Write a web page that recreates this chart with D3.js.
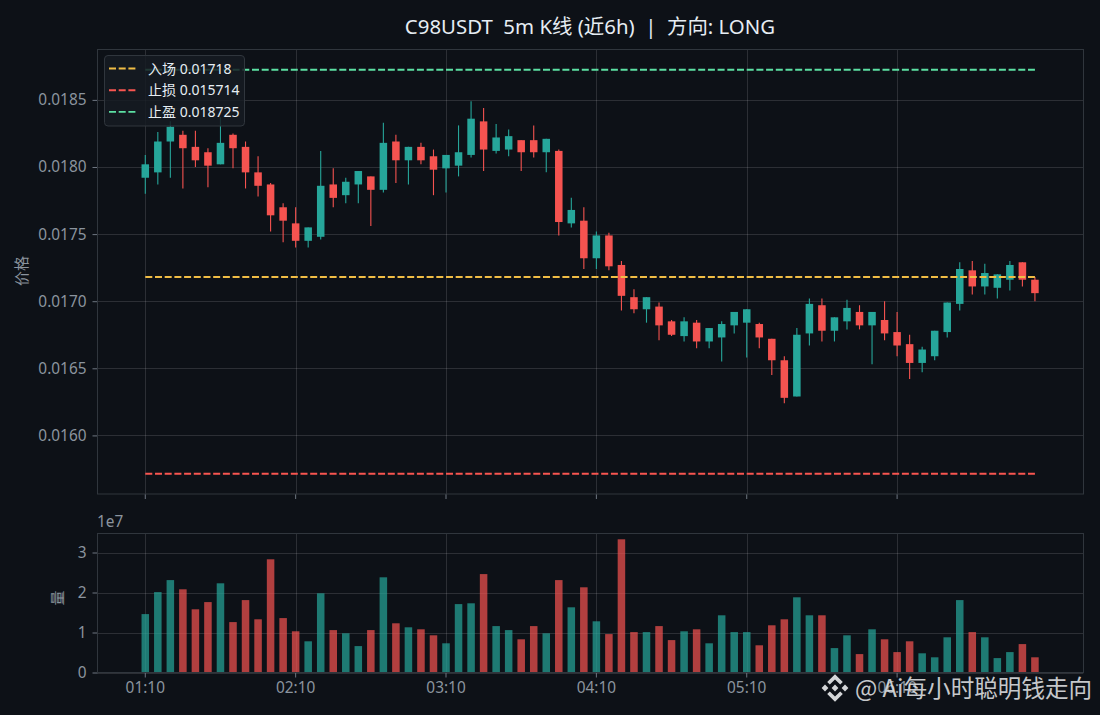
<!DOCTYPE html>
<html>
<head>
<meta charset="utf-8">
<script src="https://cdn.jsdelivr.net/npm/d3@7"></script>
<style>
  html, body { margin: 0; padding: 0; background: #0d1117; }
  svg { display: block; font-family: "Noto Sans", "Noto Sans CJK SC", sans-serif; }
</style>
</head>
<body>
<div id="chart"></div>
<script>
const opens = [0.01792,0.01796,0.01819,0.01824,0.01815,0.01811,0.01802,0.01824,0.01815,0.01796,
  0.01787,0.01770,0.01758,0.01745,0.01748,0.01787,0.01779,0.01787,0.01793,0.01783,
  0.01819,0.01805,0.01815,0.01808,0.01799,0.01801,0.01809,0.01834,0.01812,0.01813,
  0.01820,0.01820,0.01811,0.01812,0.01758,0.01760,0.01732,0.01749,0.01727,0.01703,
  0.01694,0.01696,0.01685,0.01674,0.01684,0.01670,0.01673,0.01682,0.01684,0.01683,
  0.01672,0.01656,0.01629,0.01676,0.01697,0.01678,0.01685,0.01692,0.01682,0.01686,
  0.01677,0.01668,0.01654,0.01659,0.01677,0.01698,0.01723,0.01711,0.01710,0.01716,
  0.01729,0.01716];
const closes = [0.01802,0.01819,0.01830,0.01814,0.01805,0.01801,0.01818,0.01814,0.01796,0.01786,
  0.01764,0.01760,0.01745,0.01755,0.01786,0.01777,0.01789,0.01797,0.01783,0.01818,
  0.01805,0.01815,0.01805,0.01798,0.01809,0.01811,0.01836,0.01813,0.01822,0.01823,
  0.01811,0.01811,0.01821,0.01759,0.01768,0.01732,0.01749,0.01726,0.01704,0.01694,
  0.01703,0.01682,0.01675,0.01685,0.01670,0.01680,0.01683,0.01692,0.01694,0.01673,
  0.01656,0.01628,0.01675,0.01698,0.01678,0.01688,0.01695,0.01682,0.01692,0.01676,
  0.01667,0.01654,0.01664,0.01678,0.01699,0.01724,0.01711,0.01721,0.01720,0.01727,
  0.01716,0.01706];
const highs = [0.01809,0.01826,0.01834,0.01827,0.01827,0.01814,0.01837,0.01825,0.01819,0.01808,
  0.01788,0.01773,0.01770,0.01755,0.01812,0.01799,0.01792,0.01797,0.01793,0.01833,
  0.01824,0.01815,0.01818,0.01813,0.01809,0.01831,0.01849,0.01844,0.01832,0.01828,
  0.01820,0.01831,0.01821,0.01813,0.01777,0.01770,0.01752,0.01751,0.01730,0.01709,
  0.01703,0.01699,0.01686,0.01688,0.01686,0.01680,0.01685,0.01692,0.01694,0.01684,
  0.01672,0.01659,0.01680,0.01702,0.01702,0.01688,0.01701,0.01697,0.01692,0.01700,
  0.01692,0.01675,0.01666,0.01678,0.01699,0.01729,0.01730,0.01728,0.01720,0.01730,
  0.01729,0.01718];
const lows = [0.01780,0.01787,0.01792,0.01784,0.01800,0.01785,0.01802,0.01799,0.01784,0.01778,
  0.01752,0.01744,0.01740,0.01740,0.01746,0.01770,0.01773,0.01773,0.01756,0.01781,
  0.01788,0.01787,0.01802,0.01779,0.01781,0.01793,0.01807,0.01797,0.01810,0.01808,
  0.01797,0.01807,0.01796,0.01749,0.01755,0.01724,0.01724,0.01723,0.01693,0.01691,
  0.01684,0.01671,0.01674,0.01670,0.01665,0.01665,0.01655,0.01676,0.01658,0.01665,
  0.01645,0.01624,0.01629,0.01667,0.01670,0.01670,0.01679,0.01679,0.01653,0.01671,
  0.01659,0.01642,0.01647,0.01656,0.01673,0.01693,0.01705,0.01705,0.01702,0.01708,
  0.01711,0.01700];
const volumes = [1.46,2.01,2.31,2.08,1.58,1.76,2.23,1.26,1.81,1.33,2.83,1.36,1.03,0.78,1.98,1.06,0.98,0.66,1.06,2.38,
  1.23,1.13,1.08,0.93,0.73,1.71,1.73,2.46,1.16,1.06,0.83,1.16,0.98,2.31,1.63,2.13,1.28,0.96,3.33,1.01,
  1.01,1.16,0.81,1.03,1.08,0.73,1.43,1.01,1.01,0.68,1.18,1.33,1.88,1.43,1.43,0.61,0.93,0.46,1.08,0.83,
  0.51,0.78,0.48,0.38,0.88,1.81,1.01,0.88,0.36,0.51,0.71,0.38];

const levels = [
  { name: "入场", value: 0.01718, color: "#f0bd45" },
  { name: "止损", value: 0.015714, color: "#f85550" },
  { name: "止盈", value: 0.018725, color: "#5ce0a3" }
];
const priceTicks = [0.016, 0.0165, 0.017, 0.0175, 0.018, 0.0185];
const volumeTicks = [0, 1, 2, 3];
const timeIndex = [0, 12, 24, 36, 48, 60];
const timeLabels = ["01:10", "02:10", "03:10", "04:10", "05:10", "06:10"];

const title = "C98USDT  5m K线 (近6h)  |  方向: LONG";
const watermark = "@ Ai每小时聪明钱走向";

const width = 1100;
const height = 715;
const left = 97.3;
const right = 1083.3;
const green = "#26a69a";
const red = "#f55350";
const gridColor = "rgba(255,255,255,0.13)";
const spineColor = "#30363d";
const textColor = "#8b949e";
const tickFont = "15.4px";

const candles = opens.map((o, i) => ({
  i, o, c: closes[i], h: highs[i], l: lows[i], v: volumes[i], up: closes[i] >= o
}));

const svg = d3.select("#chart").append("svg")
  .attr("width", width)
  .attr("height", height);

svg.append("rect").attr("width", width).attr("height", height).attr("fill", "#0d1117");

const x = d3.scaleLinear().domain([-3.83, 74.86]).range([left, right]);

// price domain with the same 5% margin on both sides
const priceMin = d3.min(lows.concat(levels.map(d => d.value)));
const priceMax = d3.max(highs.concat(levels.map(d => d.value)));
const pad = (priceMax - priceMin) * 0.05;
const y = d3.scaleLinear().domain([priceMin - pad, priceMax + pad]).range([494, 49.5]);
const yVol = d3.scaleLinear().domain([0, 3.475]).range([672.5, 533.5]);

const crisp = v => Math.round(v) + 0.5;

const drawPanel = (yScale, ticks, top, bottom) => {
  const grid = svg.append("g");
  grid.selectAll(".h").data(ticks).enter().append("line")
    .attr("x1", left).attr("x2", right)
    .attr("y1", d => crisp(yScale(d))).attr("y2", d => crisp(yScale(d)))
    .attr("stroke", gridColor);
  grid.selectAll(".v").data(timeIndex).enter().append("line")
    .attr("x1", d => crisp(x(d))).attr("x2", d => crisp(x(d)))
    .attr("y1", top).attr("y2", bottom)
    .attr("stroke", gridColor);
};

drawPanel(y, priceTicks, 49.5, 494);
drawPanel(yVol, volumeTicks, 533.5, 672.5);

// candles
const candleWidth = x(0.6) - x(0);
const gCandle = svg.append("g");
gCandle.selectAll("line").data(candles).enter().append("line")
  .attr("x1", d => x(d.i)).attr("x2", d => x(d.i))
  .attr("y1", d => y(d.h)).attr("y2", d => y(d.l))
  .attr("stroke", d => d.up ? green : red)
  .attr("stroke-width", 1.1);
gCandle.selectAll("rect").data(candles).enter().append("rect")
  .attr("x", d => x(d.i) - candleWidth / 2)
  .attr("width", candleWidth)
  .attr("y", d => y(Math.max(d.o, d.c)))
  .attr("height", d => Math.abs(y(d.o) - y(d.c)))
  .attr("fill", d => d.up ? green : red);

// entry / stop / target
svg.append("g").selectAll("line").data(levels).enter().append("line")
  .attr("x1", x(0)).attr("x2", x(71))
  .attr("y1", d => y(d.value)).attr("y2", d => y(d.value))
  .attr("stroke", d => d.color)
  .attr("stroke-width", 1.9)
  .attr("stroke-dasharray", "7,2.7");

// volume
svg.append("g").selectAll("rect").data(candles).enter().append("rect")
  .attr("x", d => x(d.i) - candleWidth / 2)
  .attr("width", candleWidth)
  .attr("y", d => yVol(d.v))
  .attr("height", d => yVol(0) - yVol(d.v))
  .attr("fill", d => d.up ? green : red)
  .attr("opacity", 0.71);

// axes
const styleAxis = g => {
  g.selectAll("path").remove();
  g.selectAll("line").attr("stroke", "#6e7681");
  g.selectAll("text").attr("fill", textColor).style("font-size", tickFont)
    .style("font-family", '"Noto Sans", sans-serif');
};

svg.append("g").attr("transform", `translate(${crisp(left)},0)`)
  .call(d3.axisLeft(y).tickValues(priceTicks).tickFormat(d3.format(".4f")).tickSize(5).tickPadding(6))
  .call(styleAxis);
svg.append("g").attr("transform", `translate(${crisp(left)},0)`)
  .call(d3.axisLeft(yVol).tickValues(volumeTicks).tickFormat(d3.format("d")).tickSize(5).tickPadding(6))
  .call(styleAxis);
svg.append("g").attr("transform", "translate(-0.5,494)")
  .call(d3.axisBottom(x).tickValues(timeIndex).tickFormat("").tickSize(5))
  .call(styleAxis);
svg.append("g").attr("transform", "translate(-0.5,672.5)")
  .call(d3.axisBottom(x).tickValues(timeIndex).tickFormat((d, i) => timeLabels[i]).tickSize(5).tickPadding(5))
  .call(styleAxis);

[[49.5, 494], [533.5, 672.5]].forEach(([top, bottom]) => {
  svg.append("rect")
    .attr("x", crisp(left)).attr("y", top)
    .attr("width", crisp(right) - crisp(left)).attr("height", bottom - top)
    .attr("fill", "none").attr("stroke", spineColor);
});

// text
svg.append("text")
  .attr("x", 590).attr("y", 33.5)
  .attr("text-anchor", "middle")
  .attr("fill", "#e6edf3")
  .style("font-size", "20.4px")
  .style("white-space", "pre")
  .text(title);

svg.append("text")
  .attr("transform", "translate(27,271) rotate(-90)")
  .attr("text-anchor", "middle")
  .attr("fill", textColor)
  .style("font-size", "15px")
  .text("价格");
svg.append("text")
  .attr("transform", "translate(63,598) rotate(-90)")
  .attr("text-anchor", "middle")
  .attr("fill", textColor)
  .style("font-size", "15px")
  .text("量");
svg.append("text")
  .attr("x", crisp(left) - 0.5).attr("y", 527)
  .attr("fill", textColor)
  .style("font-size", tickFont)
  .text("1e7");

// legend
const legend = svg.append("g").attr("transform", "translate(104,55)");
legend.append("rect")
  .attr("x", 0.5).attr("y", 0.5)
  .attr("width", 140).attr("height", 70.5).attr("rx", 3.5)
  .attr("fill", "#161b22").attr("fill-opacity", 0.85)
  .attr("stroke", spineColor);
const legendRow = legend.selectAll(".row").data(levels).enter().append("g")
  .attr("transform", (d, i) => `translate(0,${13.5 + i * 21.7})`);
legendRow.append("line")
  .attr("x1", 5).attr("x2", 32)
  .attr("stroke", d => d.color)
  .attr("stroke-width", 1.9)
  .attr("stroke-dasharray", "7,2.7");
legendRow.append("text")
  .attr("x", 44).attr("y", 5)
  .attr("fill", "#e6edf3")
  .style("font-size", "14px")
  .text(d => `${d.name} ${d.value}`);

// watermark
const mark = svg.append("g").attr("transform", "translate(835,688)").attr("fill", "#d4d6d8");
mark.append("rect").attr("x", -2.4).attr("y", -2.4).attr("width", 4.8).attr("height", 4.8)
  .attr("transform", "rotate(45)");
[-1, 1].forEach(s => {
  mark.append("rect").attr("x", -2.4).attr("y", -2.4).attr("width", 4.8).attr("height", 4.8)
    .attr("transform", `translate(${s * 10},0) rotate(45)`);
});
[0, 180].forEach(a => {
  mark.append("path")
    .attr("d", "M0,-13.8 L7.8,-6 L5.2,-3.6 L0,-8.6 L-5.2,-3.6 L-7.8,-6 Z")
    .attr("transform", `rotate(${a})`);
});
svg.append("text")
  .attr("x", 855).attr("y", 697)
  .attr("fill", "rgba(225,227,229,0.88)")
  .style("font-size", "23.6px")
  .style("font-family", '"Noto Sans CJK SC", sans-serif')
  .text(watermark);
</script>
</body>
</html>
